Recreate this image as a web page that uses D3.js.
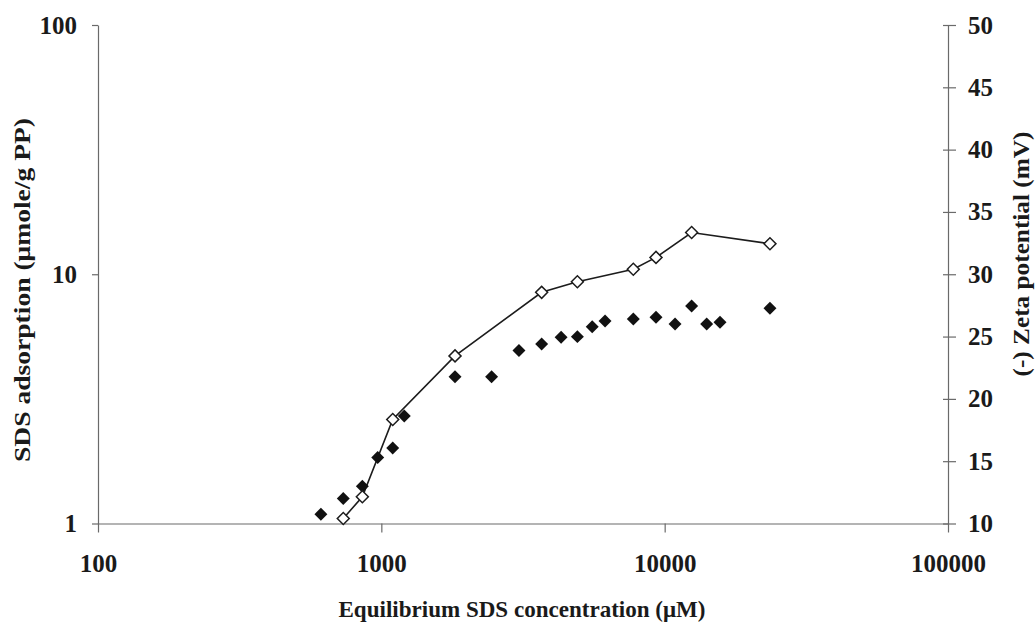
<!DOCTYPE html>
<html>
<head>
<meta charset="utf-8">
<script src="https://cdn.jsdelivr.net/npm/d3@7"></script>
<style>
  html, body { margin: 0; padding: 0; background: #fff; }
  svg text { font-family: "Liberation Serif", "Times New Roman", serif; font-weight: bold; fill: #1a1a1a; }
</style>
</head>
<body>
<svg id="chart" width="1035" height="627"></svg>
<script>
// SDS adsorption on PP (left, log axis) – filled diamonds
const adsConc = [612, 734, 857, 971, 1097, 1205, 1820, 2450, 3060, 3680, 4310, 4920,
                 5550, 6160, 7750, 9320, 10880, 12450, 14070, 15680, 23530];
const adsValue = [1.09, 1.26, 1.41, 1.84, 2.01, 2.70, 3.88, 3.88, 4.94, 5.25, 5.59, 5.62,
                  6.16, 6.49, 6.61, 6.72, 6.32, 7.46, 6.32, 6.42, 7.30];

// Zeta potential (right, linear axis) – open diamonds joined by a line
const zetaConc = [734, 857, 1097, 1820, 3680, 4920, 7750, 9320, 12450, 23530];
const zetaValue = [10.4, 12.15, 18.35, 23.45, 28.55, 29.4, 30.4, 31.35, 33.35, 32.45];

// Axis ticks
const xTicks = [100, 1000, 10000, 100000];
const yLeftTicks = [1, 10, 100];
const yRightTicks = [10, 15, 20, 25, 30, 35, 40, 45, 50];

const svg = d3.select("#chart");
const plotLeft = 98, plotRight = 948, plotTop = 25, plotBottom = 523.5;

const x = d3.scaleLog().domain([100, 100000]).range([plotLeft, plotRight]);
const yL = d3.scaleLog().domain([1, 100]).range([plotBottom, plotTop]);
const yR = d3.scaleLinear().domain([10, 50]).range([plotBottom, plotTop]);

const axisColor = "#6a6a6a";

function styleAxis(g) {
  g.selectAll("path.domain").attr("stroke", axisColor).attr("stroke-width", 1.2);
  g.selectAll(".tick line").attr("stroke", axisColor).attr("stroke-width", 1.2);
  g.selectAll(".tick text")
    .style("font-family", "'Liberation Serif', 'Times New Roman', serif")
    .style("font-weight", "bold")
    .style("font-size", "25px")
    .attr("fill", "#1a1a1a");
}

// Bottom axis
const gx = svg.append("g")
  .attr("transform", `translate(0,${plotBottom})`)
  .call(d3.axisBottom(x).tickValues(xTicks).tickFormat(d3.format("d"))
    .tickSizeInner(9).tickSizeOuter(0).tickPadding(22));
styleAxis(gx);

// Left axis
const gl = svg.append("g")
  .attr("transform", `translate(${plotLeft},0)`)
  .call(d3.axisLeft(yL).tickValues(yLeftTicks).tickFormat(d3.format("d"))
    .tickSizeInner(6).tickSizeOuter(0).tickPadding(15));
styleAxis(gl);

// Right axis (ticks cross the axis line)
const gr = svg.append("g")
  .attr("transform", `translate(${plotRight},0)`)
  .call(d3.axisRight(yR).tickValues(yRightTicks).tickFormat(d3.format("d"))
    .tickSizeInner(8).tickSizeOuter(0).tickPadding(12));
styleAxis(gr);
gr.selectAll(".tick line").attr("x1", -5);

// Zeta potential line
const line = d3.line()
  .x((d, i) => x(zetaConc[i]))
  .y(d => yR(d));
svg.append("path")
  .datum(zetaValue)
  .attr("d", line)
  .attr("fill", "none")
  .attr("stroke", "#1c1c1c")
  .attr("stroke-width", 1.6);

const diamond = d3.symbol().type(d3.symbolSquare);

// Adsorption markers
svg.append("g").selectAll("path")
  .data(adsValue)
  .join("path")
  .attr("d", diamond.size(84))
  .attr("transform", (d, i) => `translate(${x(adsConc[i])},${yL(d)}) rotate(45)`)
  .attr("fill", "#111");

// Zeta potential markers
svg.append("g").selectAll("path")
  .data(zetaValue)
  .join("path")
  .attr("d", diamond.size(72))
  .attr("transform", (d, i) => `translate(${x(zetaConc[i])},${yR(d)}) rotate(45)`)
  .attr("fill", "#fff")
  .attr("stroke", "#1c1c1c")
  .attr("stroke-width", 1.5);

// Axis titles
svg.append("text")
  .attr("x", 522).attr("y", 609).attr("dy", "0.35em")
  .attr("text-anchor", "middle")
  .attr("textLength", 367)
  .attr("lengthAdjust", "spacingAndGlyphs")
  .style("font-size", "23px")
  .text("Equilibrium SDS concentration (\u03BCM)");

svg.append("text")
  .attr("transform", "translate(22,290) rotate(-90)")
  .attr("dy", "0.35em")
  .attr("text-anchor", "middle")
  .attr("textLength", 344)
  .attr("lengthAdjust", "spacingAndGlyphs")
  .style("font-size", "23px")
  .text("SDS adsorption (\u03BCmole/g PP)");

svg.append("text")
  .attr("transform", "translate(1021,254) rotate(-90)")
  .attr("dy", "0.35em")
  .attr("text-anchor", "middle")
  .attr("textLength", 245)
  .attr("lengthAdjust", "spacingAndGlyphs")
  .style("font-size", "24px")
  .text("(-) Zeta potential (mV)");
</script>
</body>
</html>
